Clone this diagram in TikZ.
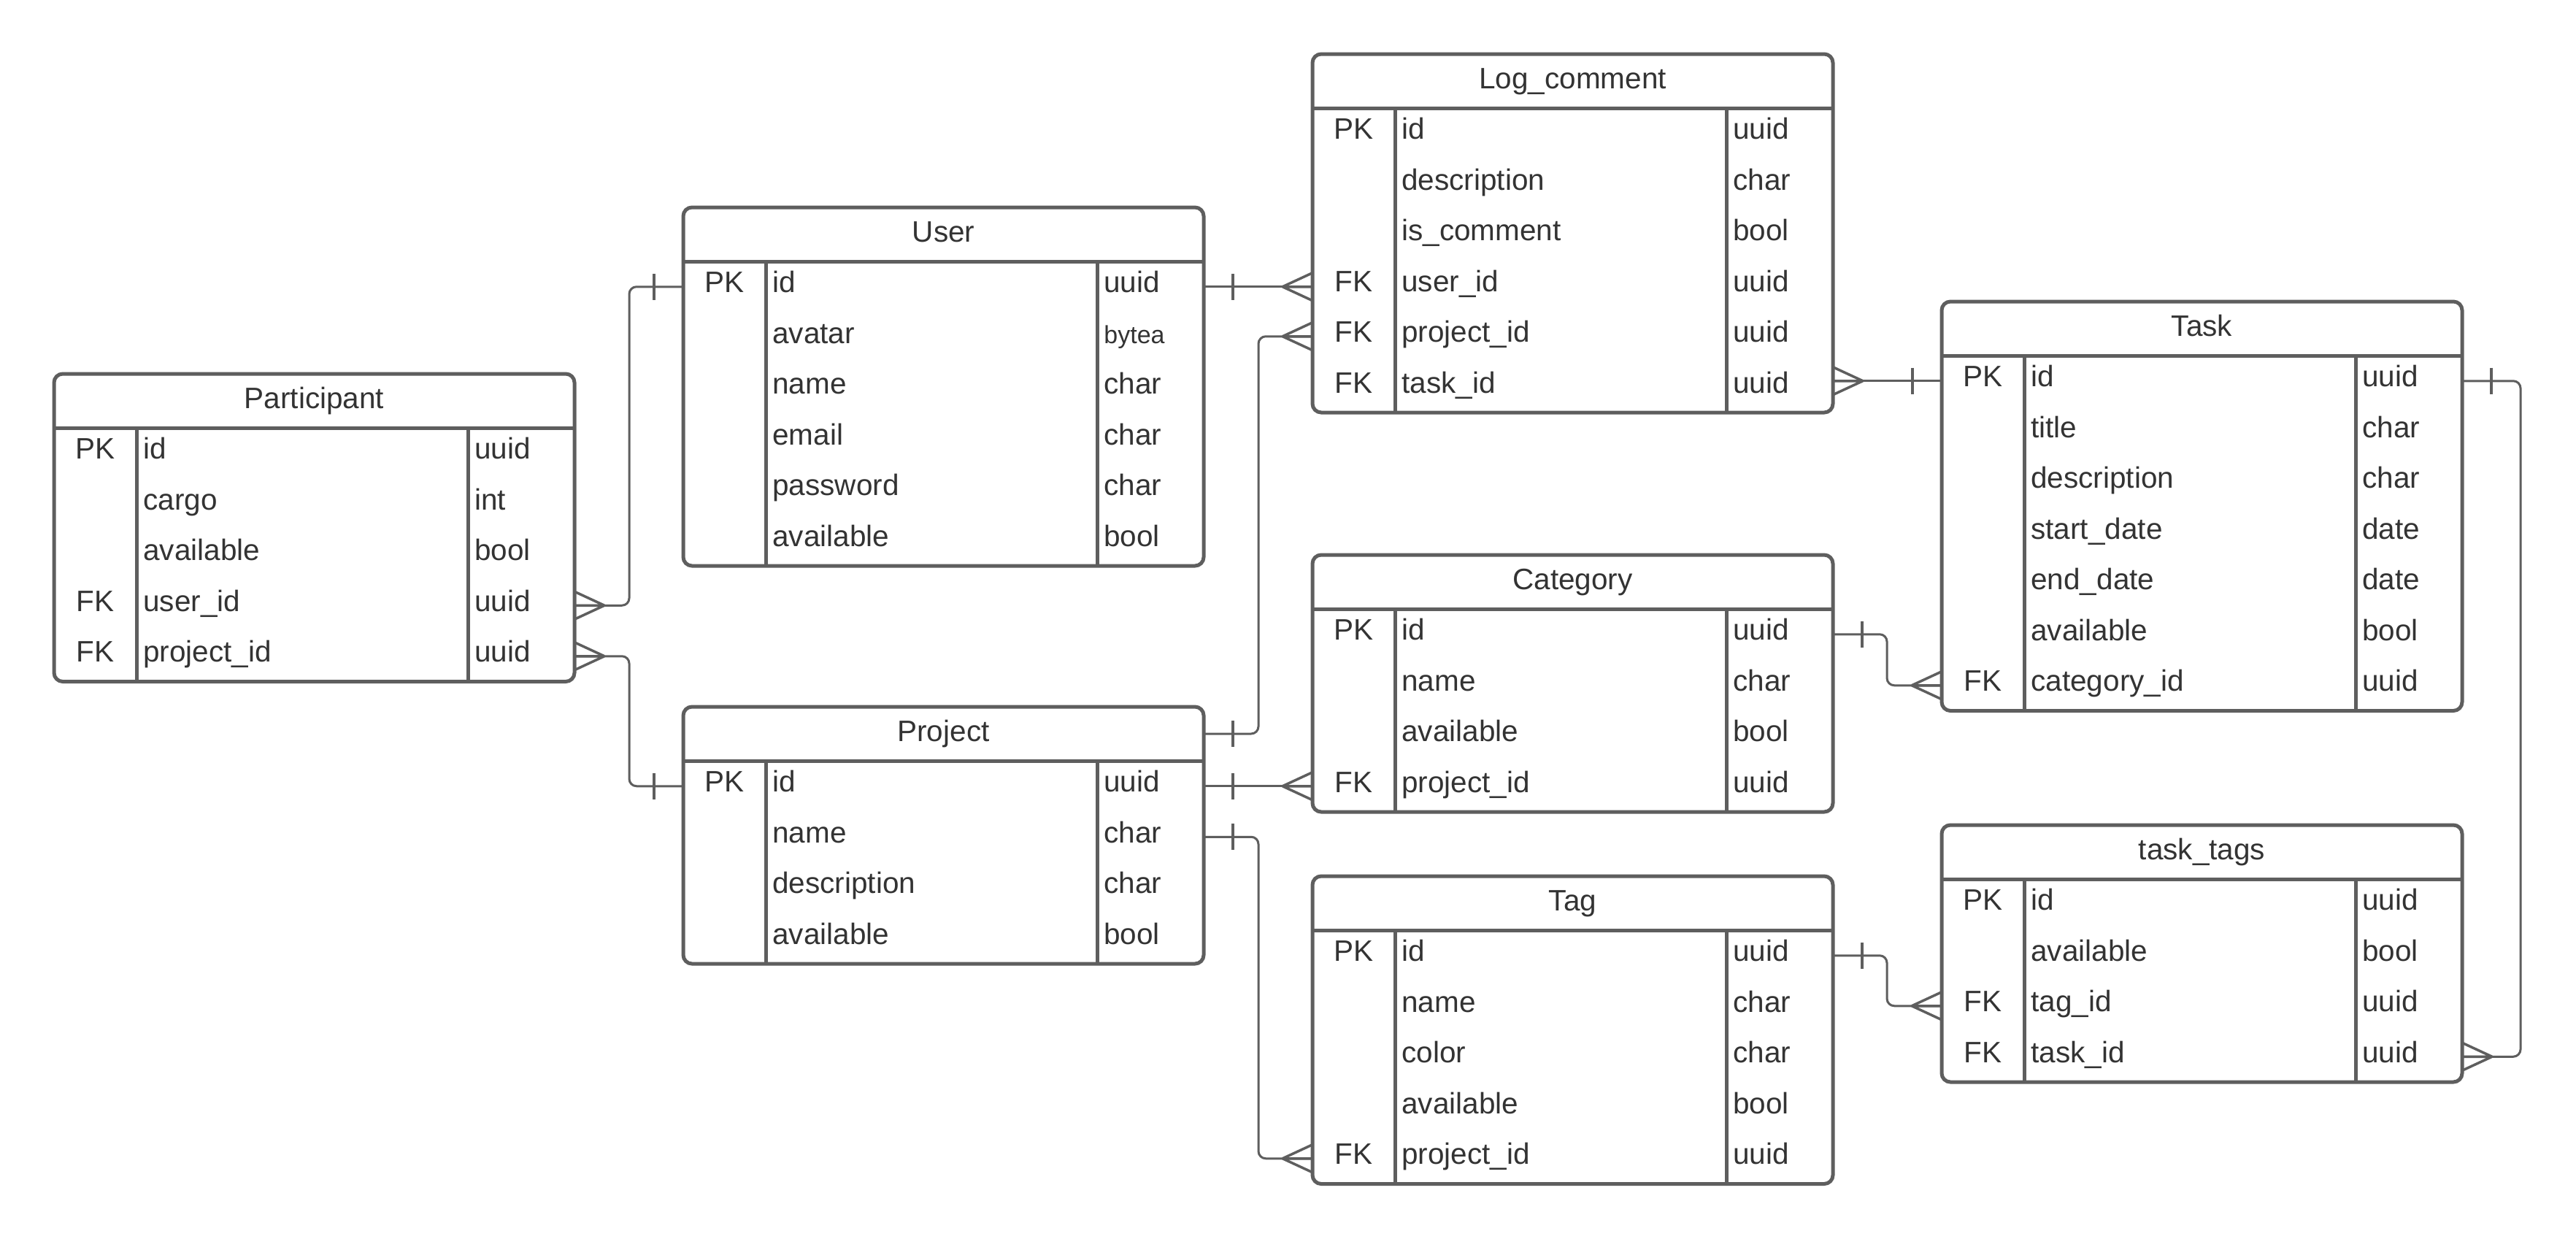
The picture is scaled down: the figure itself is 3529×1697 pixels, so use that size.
\documentclass[tikz,border=0pt]{standalone}
\usepackage{fontspec}
\setmainfont{Liberation Sans}
\usetikzlibrary{calc}
\definecolor{ln}{RGB}{94,94,94}
\definecolor{tx}{RGB}{51,51,51}
\tikzset{
  tblbox/.style={draw=ln, line width=2.5pt, rounded corners=6pt, fill=white, inner sep=0pt, outer sep=0pt},
  tblline/.style={draw=ln, line width=2.5pt},
  cell/.style={inner sep=0pt, text=tx, font=\fontsize{20.25}{24}\selectfont},
  conn/.style={draw=ln, line width=1.5pt, rounded corners=5pt},
  crowline/.style={draw=ln, line width=1.75pt},
}
\newcommand\ertable[6]{%
  \node[tblbox, anchor=north west, minimum width=356.5pt, minimum height={(74+#4*69.5)*0.5pt}] (#1) at (#2,#3) {};
  \draw[tblline] ($(#1.north west)+(0,74)$) -- ($(#1.north east)+(0,74)$);
  \draw[tblline] ($(#1.north west)+(113,74)$) -- ($(#1.south west)+(113,0)$);
  \draw[tblline] ($(#1.north west)+(567,74)$) -- ($(#1.south west)+(567,0)$);
  \node[cell, anchor=base] (#1-title) at ($(#1.north)+(0,47)$) {#5};
  \coordinate (#1-h-w) at ($(#1.north west)+(0,37)$);
  \coordinate (#1-h-e) at ($(#1.north east)+(0,37)$);
  \foreach \k/\n/\t [count=\i] in {#6} {
    \coordinate (#1-\i-w) at ($(#1.north west)+(0,{74+34.75+(\i-1)*69.5})$);
    \coordinate (#1-\i-e) at ($(#1.north east)+(0,{74+34.75+(\i-1)*69.5})$);
    \node[cell, anchor=base] (#1-k\i) at ($(#1-\i-w)+(56.5,8)$) {\k};
    \node[cell, anchor=base west] (#1-n\i) at ($(#1-\i-w)+(122,8)$) {\n};
    \node[cell, anchor=base west] (#1-t\i) at ($(#1-\i-w)+(576,8)$) {\t};
  }%
}
% crow's foot: box lies to the right of the point
\newcommand\crowW[1]{\draw[crowline] ($(#1)+(-41,0)$) -- ($(#1)+(0,-19)$) ($(#1)+(-41,0)$) -- ($(#1)+(0,19)$) ($(#1)+(-41,0)$) -- (#1);}
% crow's foot: box lies to the left of the point
\newcommand\crowE[1]{\draw[crowline] ($(#1)+(41,0)$) -- ($(#1)+(0,-19)$) ($(#1)+(41,0)$) -- ($(#1)+(0,19)$) ($(#1)+(41,0)$) -- (#1);}
\newcommand\tickW[1]{\draw[crowline] ($(#1)+(-40,-18)$) -- ($(#1)+(-40,18)$);}
\newcommand\tickE[1]{\draw[crowline] ($(#1)+(40,-18)$) -- ($(#1)+(40,18)$);}

\begin{document}
\begin{tikzpicture}[x=0.5pt,y=-0.5pt]
\useasboundingbox (0,0) rectangle (3529,1697);
\fill[white] (0,0) rectangle (3529,1697);

\ertable{participant}{74}{512}{5}{Participant}{PK/id/uuid, /cargo/int, /available/bool, FK/user\_id/uuid, FK/project\_id/uuid}
\ertable{user}{936}{284}{6}{User}{PK/id/uuid, /avatar/{\fontsize{17}{20}\selectfont bytea}, /name/char, /email/char, /password/char, /available/bool}
\ertable{project}{936}{968}{4}{Project}{PK/id/uuid, /name/char, /description/char, /available/bool}
\ertable{logc}{1798}{74}{6}{Log\_comment}{PK/id/uuid, /description/char, /is\_comment/bool, FK/user\_id/uuid, FK/project\_id/uuid, FK/task\_id/uuid}
\ertable{category}{1798}{760}{4}{Category}{PK/id/uuid, /name/char, /available/bool, FK/project\_id/uuid}
\ertable{tag}{1798}{1200}{5}{Tag}{PK/id/uuid, /name/char, /color/char, /available/bool, FK/project\_id/uuid}
\ertable{task}{2660}{413}{7}{Task}{PK/id/uuid, /title/char, /description/char, /start\_date/date, /end\_date/date, /available/bool, FK/category\_id/uuid}
\ertable{tasktags}{2660}{1130}{4}{task\_tags}{PK/id/uuid, /available/bool, FK/tag\_id/uuid, FK/task\_id/uuid}

% Participant.user_id -> User.id
\draw[conn] (participant-4-e) -- ++(75,0) |- (user-1-w);
\crowE{participant-4-e} \tickW{user-1-w}
% Participant.project_id -> Project.id
\draw[conn] (participant-5-e) -- ++(75,0) |- (project-1-w);
\crowE{participant-5-e} \tickW{project-1-w}
% User.id -> Log_comment.user_id
\coordinate (ul) at (logc-4-w |- user-1-e);
\draw[conn] (user-1-e) -- (ul);
\tickE{user-1-e} \crowW{ul}
% Project -> Log_comment.project_id
\draw[conn] (project-h-e) -- ++(75,0) |- (logc-5-w);
\tickE{project-h-e} \crowW{logc-5-w}
% Project.id -> Category.project_id
\coordinate (pc) at (category-4-w |- project-1-e);
\draw[conn] (project-1-e) -- (pc);
\tickE{project-1-e} \crowW{pc}
% Project -> Tag.project_id
\draw[conn] (project-2-e) -- ++(75,0) |- (tag-5-w);
\tickE{project-2-e} \crowW{tag-5-w}
% Log_comment.task_id -> Task.id
\coordinate (lt) at (logc-6-e |- task-1-w);
\draw[conn] (lt) -- (task-1-w);
\crowE{lt} \tickW{task-1-w}
% Category.id -> Task.category_id
\draw[conn] (category-1-e) -- ++(74,0) |- (task-7-w);
\tickE{category-1-e} \crowW{task-7-w}
% Tag.id -> task_tags.tag_id
\draw[conn] (tag-1-e) -- ++(74,0) |- (tasktags-3-w);
\tickE{tag-1-e} \crowW{tasktags-3-w}
% Task.id -> task_tags.task_id
\draw[conn] (task-1-e) -- ++(80,0) |- (tasktags-4-e);
\tickE{task-1-e} \crowE{tasktags-4-e}
\end{tikzpicture}
\end{document}
